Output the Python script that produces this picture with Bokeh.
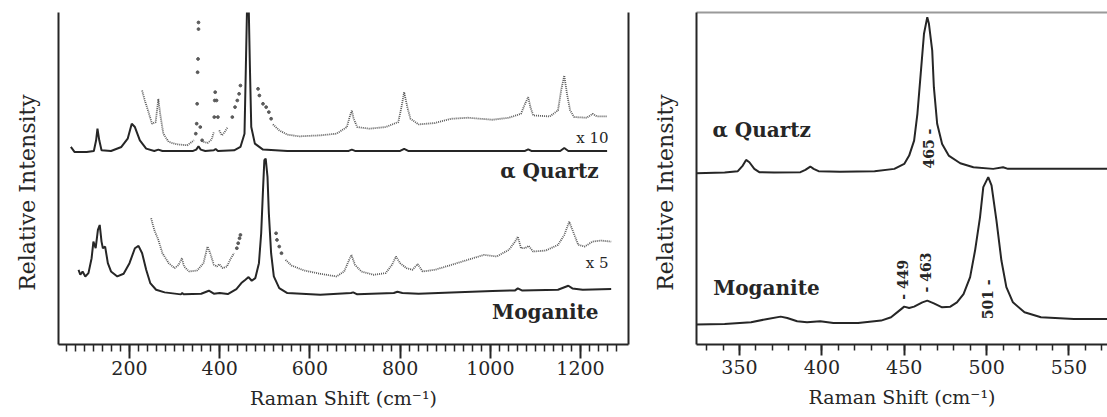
import math
from bokeh.plotting import figure
from bokeh.layouts import row
from bokeh.models import Range1d, FixedTicker, LinearAxis
from bokeh.core.properties import value
from bokeh.embed import file_html
from bokeh.resources import INLINE

# ---------------- Left panel: full spectra (wavenumber, relative intensity) ----------------
quartz_x = [70, 78, 105, 121, 126, 129, 133, 138, 159, 182, 196, 205, 212, 223, 237, 255, 264, 273,
            341, 348, 353, 358, 368, 387, 391, 396, 432, 446, 455, 458, 461, 464, 467, 470, 478, 496,
            550, 686, 693, 700, 800, 809, 818, 1077, 1084, 1091, 1155, 1164, 1173, 1259]
quartz_y = [59.5, 58.0, 58.0, 58.3, 61.5, 65.0, 61.5, 58.5, 58.3, 59.5, 62.0, 66.5, 65.5, 61.5, 59.0, 58.3, 58.7, 58.3,
            58.3, 58.7, 59.7, 58.7, 58.3, 58.5, 58.9, 58.3, 58.5, 59.5, 63.5, 83.5, 104.0, 104.0, 83.5, 65.5, 60.5, 58.7,
            58.3, 58.3, 58.7, 58.3, 58.3, 58.9, 58.3, 58.3, 58.8, 58.3, 58.3, 59.2, 58.3, 58.3]

# x10 expanded quartz trace, continuous parts
q10_a_x = [228, 234, 241, 250, 258, 264, 268, 275, 287, 305, 328, 343]
q10_a_y = [76.5, 73.5, 70.5, 66.5, 67.0, 74.0, 69.5, 63.5, 61.0, 60.3, 60.0, 61.5]
q10_b_x = [364, 373, 382, 387]
q10_b_y = [61.0, 60.7, 61.7, 64.0]
q10_c_x = [399, 405, 411, 418]
q10_c_y = [64.5, 63.0, 64.0, 65.5]
q10_d_x = [518, 532, 550, 577, 623, 659, 682, 688, 693, 697, 705, 732, 768, 796, 803, 809, 816, 823,
           841, 877, 914, 950, 1005, 1041, 1068, 1077, 1084, 1089, 1095, 1132, 1150, 1157, 1164, 1170,
           1177, 1186, 1214, 1227, 1236, 1259]
q10_d_y = [66.3, 64.5, 63.2, 62.7, 63.0, 63.5, 65.5, 68.5, 70.5, 68.0, 65.5, 65.0, 65.5, 67.0, 71.5, 76.0, 71.5, 68.0,
           66.3, 66.7, 68.0, 68.3, 67.7, 68.3, 69.5, 72.5, 74.5, 71.5, 69.0, 68.7, 70.5, 76.5, 81.0, 75.5,
           70.5, 68.5, 68.3, 69.5, 68.7, 68.7]
# x10 quartz, isolated points on the steep flanks
q10_dots_x = [347, 349, 350, 351, 352, 353, 353, 357, 361, 388, 389, 390, 393, 396,
              428, 434, 439, 443, 446, 485, 488, 496, 503, 509, 514]
q10_dots_y = [63.5, 66.5, 72.5, 82.0, 86.0, 95.0, 97.0, 65.5, 61.5, 68.5, 73.5, 76.0, 73.5, 68.5,
              68.5, 71.5, 73.5, 75.5, 78.0, 77.0, 75.0, 72.5, 71.5, 70.0, 68.0]

mog_x = [87, 91, 96, 102, 109, 116, 120, 125, 130, 134, 138, 141, 146, 152, 159, 173, 187, 200, 212,
         220, 228, 237, 246, 259, 278, 314, 317, 320, 359, 376, 387, 400, 418, 437, 448, 457, 464, 471,
         479, 487, 492, 496, 499, 502, 506, 509, 514, 520, 532, 550, 623, 691, 696, 705, 786, 794, 805,
         841, 914, 1005, 1055, 1061, 1070, 1150, 1173, 1182, 1205, 1268]
mog_y = [22.5, 21.0, 22.0, 20.5, 21.5, 26.0, 31.0, 29.0, 34.5, 36.0, 31.0, 29.0, 29.5, 24.5, 22.0, 20.5, 21.3, 24.5, 29.0,
         29.7, 27.5, 22.5, 18.5, 16.5, 15.7, 15.1, 15.5, 15.1, 15.3, 16.2, 15.3, 15.5, 15.2, 16.7, 18.5, 19.5, 20.3, 19.2,
         20.0, 24.5, 33.5, 46.5, 55.5, 56.0, 50.5, 39.5, 27.5, 20.5, 17.0, 15.5, 15.0, 15.5, 15.7, 15.1, 15.5, 15.9, 15.5,
         15.3, 15.7, 16.1, 16.3, 16.9, 16.3, 16.5, 17.7, 16.9, 16.5, 16.7]

# x5 expanded moganite trace
m5_a_x = [248, 255, 264, 273, 287, 300, 309, 316, 321, 332, 350, 364, 373, 379, 387, 394, 399, 407, 416, 425, 432]
m5_a_y = [38.0, 34.5, 31.5, 27.5, 24.5, 23.0, 24.0, 26.0, 23.5, 22.0, 22.3, 24.5, 29.5, 27.5, 24.0, 23.5, 24.2, 23.0,
          23.5, 26.0, 27.5]
m5_b_x = [546, 559, 587, 623, 659, 676, 687, 692, 700, 714, 741, 768, 782, 791, 800, 814, 827, 839, 850, 877,
          914, 950, 986, 1014, 1041, 1055, 1061, 1068, 1077, 1085, 1095, 1123, 1150, 1164, 1175, 1185, 1195,
          1209, 1227, 1245, 1268]
m5_b_y = [25.5, 23.8, 22.3, 21.3, 20.5, 22.0, 25.5, 27.0, 24.0, 22.0, 21.0, 21.5, 24.0, 26.5, 24.5, 23.0, 22.5, 24.2,
          22.0, 22.5, 24.0, 25.5, 27.0, 26.5, 28.5, 31.0, 32.5, 29.0, 29.0, 29.7, 28.0, 28.3, 30.0, 33.0, 37.0, 33.5,
          30.0, 29.5, 31.0, 31.3, 31.0]
m5_dots_x = [438, 441, 444, 446, 525, 527, 532, 537]
m5_dots_y = [29.0, 30.5, 32.0, 33.0, 33.5, 31.5, 29.5, 27.5]

left_ticks = [200, 400, 600, 800, 1000, 1200]

# ---------------- Right panel: 320-575 cm-1 region ----------------
rq_x = [323, 341, 349, 352, 354, 356, 359, 362, 371, 387, 390, 393, 395, 398, 411, 432, 444, 450, 453,
        456, 458, 460, 462, 464, 465, 467, 468, 470, 473, 477, 484, 492, 504, 510, 513, 533, 553, 575]
rq_y = [51.6, 51.8, 52.2, 53.9, 55.6, 54.9, 52.9, 51.9, 51.8, 51.9, 52.6, 53.6, 52.9, 52.2, 52.0, 52.2, 52.9, 54.4, 56.9,
        61.4, 69.5, 81.5, 93.6, 98.6, 96.6, 88.5, 77.5, 66.5, 60.4, 56.9, 54.6, 53.4, 52.9, 53.4, 52.9, 52.9, 52.9, 52.9]
rm_x = [323, 341, 357, 367, 375, 379, 385, 391, 399, 407, 422, 436, 442, 447, 450, 453, 456, 461, 464,
        468, 473, 478, 482, 486, 490, 493, 496, 498, 501, 503, 506, 509, 512, 516, 523, 533, 553, 575]
rm_y = [6.0, 6.2, 6.7, 7.7, 8.4, 8.0, 7.0, 6.7, 7.0, 6.5, 6.5, 7.2, 8.2, 10.2, 11.4, 11.0, 11.4, 12.7, 13.2,
        12.4, 11.2, 11.4, 12.7, 15.2, 20.3, 28.3, 38.3, 47.4, 50.4, 47.9, 37.3, 25.3, 17.3, 12.7, 9.7, 8.2, 7.7, 7.7]
right_ticks = [350, 400, 450, 500, 550]
peak_pos = [465, 449, 463, 501]
peak_text = ["465 -", "- 449", "- 463", "501 -"]
peak_y = [59.0, 19.5, 21.7, 13.6]

INK = "#262626"
GREY = "#5a5a5a"
SERIF = "DejaVu Serif"
Y_TITLE = "Relative Intensity" + "\u00a0" * 4


def style_axes(p, ticks, minor, major_out, minor_out, label_standoff):
    p.grid.visible = False
    p.outline_line_color = None
    p.background_fill_color = "white"
    p.border_fill_color = "white"
    xa = p.xaxis[0]
    xa.ticker = FixedTicker(ticks=ticks, minor_ticks=minor)
    xa.major_tick_in = 0
    xa.major_tick_out = major_out
    xa.minor_tick_in = 0
    xa.minor_tick_out = minor_out
    xa.axis_line_width = 2
    xa.axis_line_color = INK
    xa.major_tick_line_color = INK
    xa.major_tick_line_width = 2
    xa.minor_tick_line_color = INK
    xa.minor_tick_line_width = 1.5
    xa.major_label_text_font = SERIF
    xa.major_label_text_font_size = "19px"
    xa.major_label_text_color = INK
    xa.major_label_standoff = label_standoff
    xa.axis_label = "Raman Shift (cm\u207b\u00b9)"
    xa.axis_label_text_font = SERIF
    xa.axis_label_text_font_size = "19px"
    xa.axis_label_text_font_style = "normal"
    xa.axis_label_text_color = INK
    xa.axis_label_standoff = 9
    ya = p.yaxis[0]
    ya.ticker = FixedTicker(ticks=[])
    ya.major_tick_out = 0
    ya.minor_tick_out = 0
    ya.axis_line_width = 2
    ya.axis_line_color = INK
    ya.axis_label = Y_TITLE
    ya.axis_label_text_font = SERIF
    ya.axis_label_text_font_size = "22px"
    ya.axis_label_text_font_style = "normal"
    ya.axis_label_text_color = INK
    ya.axis_label_standoff = 19


# ---------------- Left figure ----------------
p1 = figure(width=640, height=415, x_range=Range1d(42.6, 1306.4), y_range=Range1d(0, 100),
            output_backend="svg", toolbar_location=None,
            min_border_left=58, min_border_right=12, min_border_top=12, min_border_bottom=71)
style_axes(p1, left_ticks, list(range(60, 1300, 20)), 14, 7, 2)
right_line = LinearAxis(ticker=FixedTicker(ticks=[]), major_tick_out=0, minor_tick_out=0,
                        axis_line_width=2, axis_line_color=INK)
p1.add_layout(right_line, "right")

for xs, ys in [(q10_a_x, q10_a_y), (q10_b_x, q10_b_y), (q10_c_x, q10_c_y), (q10_d_x, q10_d_y),
               (m5_a_x, m5_a_y), (m5_b_x, m5_b_y)]:
    p1.line(xs, ys, line_color=GREY, line_width=1.8, line_dash="1 1")
p1.scatter(q10_dots_x, q10_dots_y, size=2.8, color=GREY)
p1.scatter(m5_dots_x, m5_dots_y, size=2.8, color=GREY)
p1.line(quartz_x, quartz_y, line_color=INK, line_width=2)
p1.line(mog_x, mog_y, line_color=INK, line_width=2)

p1.text(x=[1240, 1240], y=[52.4, 9.9], text=["\u03b1 Quartz", "Moganite"],
        text_font=value(SERIF), text_font_size="20px", text_font_style="bold",
        text_color=INK, text_align="right", text_baseline="middle")
p1.text(x=[1262, 1262], y=[62.3, 24.4], text=["x 10", "x 5"],
        text_font=value(SERIF), text_font_size="15px",
        text_color=INK, text_align="right", text_baseline="middle")

# ---------------- Right figure ----------------
p2 = figure(width=467, height=415, x_range=Range1d(323.9, 573.4), y_range=Range1d(0, 100),
            output_backend="svg", toolbar_location=None,
            min_border_left=56, min_border_right=0, min_border_top=12, min_border_bottom=71)
style_axes(p2, right_ticks, list(range(330, 580, 10)), 11, 6, 4)
top_line = LinearAxis(ticker=FixedTicker(ticks=[]), major_tick_out=0, minor_tick_out=0,
                      axis_line_width=2, axis_line_color="#9a9a9a")
p2.add_layout(top_line, "above")

p2.line(rq_x, rq_y, line_color=INK, line_width=2)
p2.line(rm_x, rm_y, line_color=INK, line_width=2)
p2.text(x=peak_pos, y=peak_y, text=peak_text, angle=math.pi / 2,
        text_font=value(SERIF), text_font_size="14px", text_font_style="bold",
        text_color=INK, text_align="center", text_baseline="middle")
p2.text(x=[333.6, 334.0], y=[64.5, 16.9], text=["\u03b1 Quartz", "Moganite"],
        text_font=value(SERIF), text_font_size="20px", text_font_style="bold",
        text_color=INK, text_align="left", text_baseline="middle")

layout = row(p1, p2)
open("out.html", "w").write(file_html(layout, INLINE))
